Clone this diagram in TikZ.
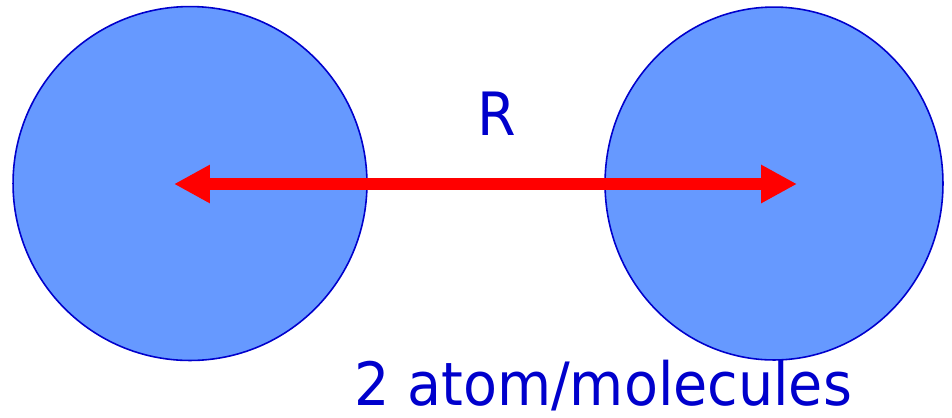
\documentclass[tikz,border=0pt]{standalone}
\usepackage{fontspec}
\usetikzlibrary{arrows.meta,shapes.geometric}
\newfontfamily\handfont[FakeStretch=0.93]{DejaVu Sans}
\definecolor{atomfill}{RGB}{102,153,255}
\definecolor{atomline}{RGB}{0,0,204}

\begin{document}
\begin{tikzpicture}[x=0.02cm, y=-0.02cm,
    atom/.style={draw=atomline, fill=atomfill, line width=0.9pt, inner sep=0pt, outer sep=0pt},
    tag/.style={text=atomline, inner sep=0pt, text depth=0pt, font=\handfont\fontsize{34}{38}\selectfont}]

    \useasboundingbox (0,0) rectangle (952,417);

    % the two atoms
    \node [atom, circle, minimum size=7.08cm] (left) at (190,183.5) {};
    \node [atom, ellipse, minimum width=6.76cm, minimum height=7.06cm] (right) at (774,183.5) {};

    % ends of the distance arrow
    \coordinate (tipL) at (174,184);
    \coordinate (tipR) at (797,184);

    \draw [red, line width=6.8pt, {Triangle[length=20.4pt, width=20.4pt]}-{Triangle[length=20.4pt, width=20.4pt]}]
        (tipL) -- (tipR);

    \node [tag, anchor=base] (dist) at (497,135) {R};
    \node [tag, anchor=base west] (caption) at (354,405) {2 atom/molecules};

\end{tikzpicture}
\end{document}
